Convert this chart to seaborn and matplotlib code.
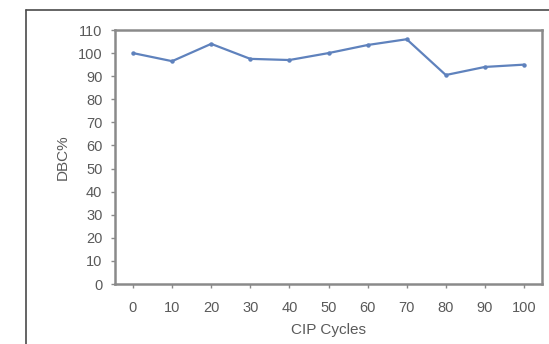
import matplotlib
matplotlib.use("Agg")
import matplotlib.pyplot as plt
import seaborn as sns
import pandas as pd
from matplotlib.lines import Line2D

# values
cycles = [0, 10, 20, 30, 40, 50, 60, 70, 80, 90, 100]
dbc = [100, 96.5, 104, 97.5, 97, 100, 103.5, 106, 90.5, 94, 95]
y_ticks = list(range(0, 111, 10))

df = pd.DataFrame({"CIP Cycles": cycles, "DBC%": dbc})

sns.set_style("white")
plt.rcParams["font.family"] = ["Liberation Sans", "DejaVu Sans"]

fig = plt.figure(figsize=(5.49, 3.44), dpi=100)
ax = fig.add_axes([115 / 549, 60 / 344, 427 / 549, 254 / 344])

sns.lineplot(data=df, x="CIP Cycles", y="DBC%", ax=ax, color="#5f82bd",
             linewidth=1.6, marker="o", markersize=3.2, markeredgewidth=0)

ax.set_xlim(-4.6, 104.6)
ax.set_ylim(0, 110)
ax.set_xticks(cycles)
ax.set_yticks(y_ticks)

grey = "#8a8a8a"
txt = "#5a5a5a"
for s in ax.spines.values():
    s.set_color(grey)
    s.set_linewidth(1.8)
ax.tick_params(axis="both", direction="out", length=3, width=1, color=grey,
               labelsize=10.5, labelcolor=txt, left=True, bottom=True)
ax.tick_params(axis="x", pad=9)
ax.tick_params(axis="y", pad=6)
ax.set_xlabel("CIP Cycles", fontsize=11, color=txt, labelpad=6)
ax.set_ylabel("DBC%", fontsize=11, color=txt, labelpad=6)

# outer frame of the original figure panel
fx = 26 / 549
fy = 1 - 10 / 344
fig.add_artist(Line2D([fx, fx], [0, fy], transform=fig.transFigure, color="#4a4a4a", lw=1.2))
fig.add_artist(Line2D([fx, 1], [fy, fy], transform=fig.transFigure, color="#4a4a4a", lw=1.2))

fig.savefig("out.png", dpi=100, facecolor="white")
